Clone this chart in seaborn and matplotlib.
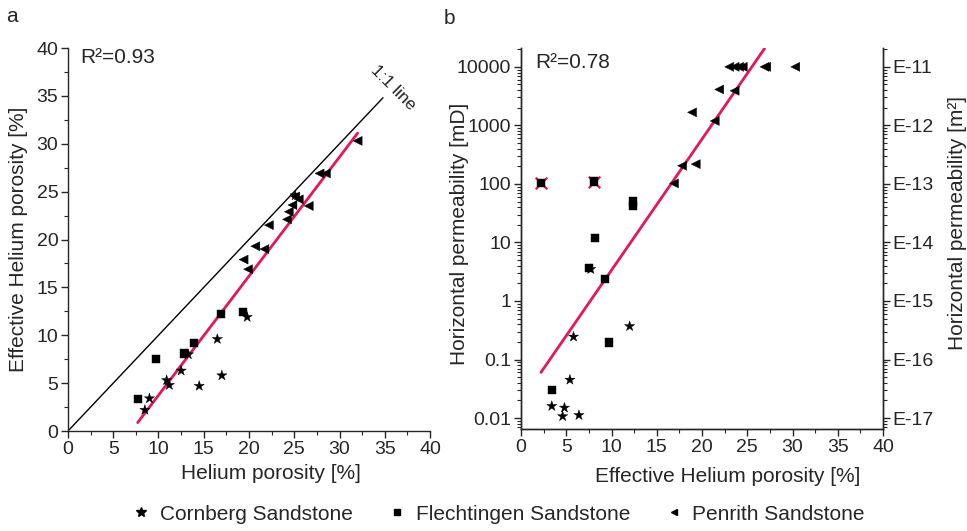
import numpy as np
import pandas as pd
import matplotlib
matplotlib.use("Agg")
import matplotlib.pyplot as plt
from matplotlib.lines import Line2D
from matplotlib.ticker import MultipleLocator, LogLocator, NullFormatter, FixedLocator, FixedFormatter
import seaborn as sns

# ---------------- data ----------------
# (a) helium porosity vs effective helium porosity [%]
a_cornberg_x = [9.0, 8.5, 10.9, 11.2, 12.5, 13.3, 14.5, 16.5, 17.0, 19.8, 25.1]
a_cornberg_y = [3.4, 2.2, 5.3, 4.8, 6.3, 8.0, 4.7, 9.6, 5.8, 11.9, 24.6]
a_flecht_x = [7.7, 9.7, 12.8, 13.9, 16.9, 19.3]
a_flecht_y = [3.3, 7.5, 8.1, 9.2, 12.2, 12.4]
a_penrith_x = [19.4, 19.9, 20.7, 21.7, 22.2, 24.2, 24.4, 24.8, 25.1, 25.5, 26.6, 27.8, 28.5, 32.0]
a_penrith_y = [17.9, 16.9, 19.3, 19.0, 21.5, 22.1, 22.9, 23.6, 24.5, 24.2, 23.5, 26.9, 26.9, 30.3]

# (b) effective helium porosity [%] vs horizontal permeability [mD]
b_cornberg_x = [7.7, 5.8, 12.0, 5.4, 3.4, 4.8, 4.6, 6.4]
b_cornberg_y = [3.5, 0.245, 0.37, 0.045, 0.016, 0.015, 0.0107, 0.0112]
b_flecht_x = [2.2, 8.1, 12.4, 12.4, 8.2, 9.3, 9.7, 3.4, 7.5]
b_flecht_y = [105, 110, 50, 42, 12, 2.4, 0.195, 0.030, 3.6]
b_penrith_x = [23.0, 23.6, 24.1, 24.5, 26.9, 27.1, 30.3, 21.9, 23.6, 18.9, 21.4, 17.8, 19.3, 16.9]
b_penrith_y = [1e4, 1e4, 1e4, 1e4, 1e4, 1e4, 1e4, 4110, 3900, 1670, 1190, 204, 218, 102]
# samples flagged as outliers (excluded from the fit)
b_outlier_x = [2.2, 8.1]
b_outlier_y = [105, 110]

# regression lines
fit_a_slope, fit_a_intercept, fit_a_range = 1.244, -8.7, (7.7, 32.0)
fit_b_slope, fit_b_intercept, fit_b_range = 0.224, -1.713, (2.2, 26.9)  # log10(k) = a*phi + b
r2_a, r2_b = 0.93, 0.78

rocks = ["Cornberg Sandstone", "Flechtingen Sandstone", "Penrith Sandstone"]
markers = {rocks[0]: "*", rocks[1]: "s", rocks[2]: "<"}
sizes = {rocks[0]: 60, rocks[1]: 34, rocks[2]: 42}
right_ticks = [1e-11, 1e-12, 1e-13, 1e-14, 1e-15, 1e-16, 1e-17]
right_labels = ["E-11", "E-12", "E-13", "E-14", "E-15", "E-16", "E-17"]


def frame(xs, ys):
    parts = []
    for rock, x, y in zip(rocks, xs, ys):
        parts.append(pd.DataFrame({"x": x, "y": y, "rock": rock}))
    return pd.concat(parts, ignore_index=True)


df_a = frame([a_cornberg_x, a_flecht_x, a_penrith_x], [a_cornberg_y, a_flecht_y, a_penrith_y])
df_b = frame([b_cornberg_x, b_flecht_x, b_penrith_x], [b_cornberg_y, b_flecht_y, b_penrith_y])

# ---------------- style ----------------
sns.set_style("ticks")
plt.rcParams["font.family"] = ["Liberation Sans", "DejaVu Sans"]
plt.rcParams["axes.linewidth"] = 1.0
fs = 14
fl = 15
red = "#e3175a"

fig = plt.figure(figsize=(9.67, 5.31), dpi=100)
ax_a = fig.add_axes([0.0703, 0.1883, 0.3744, 0.7213])
ax_b = fig.add_axes([0.5388, 0.1921, 0.3744, 0.7175])

# ---------------- panel a ----------------
sns.scatterplot(data=df_a, x="x", y="y", style="rock", markers=markers, size="rock",
                sizes=sizes, color="black", edgecolor="black", linewidth=0.3,
                legend=False, ax=ax_a, zorder=3)
ax_a.plot([0, 34.8], [0, 34.8], color="black", lw=1.0, zorder=2)
fx = np.array(fit_a_range)
ax_a.plot(fx, fit_a_slope * fx + fit_a_intercept, color=red, lw=2.0, zorder=2.5)
ax_a.text(35.9, 35.8, "1:1 line", rotation=-45, ha="center", va="center", fontsize=12.5)
ax_a.text(0.035, 0.975, f"R²={r2_a:.2f}", transform=ax_a.transAxes, ha="left", va="center", fontsize=fl)

ax_a.set_xlim(0, 40)
ax_a.set_ylim(0, 40)
ax_a.xaxis.set_major_locator(MultipleLocator(5))
ax_a.yaxis.set_major_locator(MultipleLocator(5))
ax_a.xaxis.set_minor_locator(MultipleLocator(2.5))
ax_a.yaxis.set_minor_locator(MultipleLocator(2.5))
sns.despine(ax=ax_a)
ax_a.set_xlabel("Helium porosity [%]", fontsize=fl)
ax_a.set_ylabel("Effective Helium porosity [%]", fontsize=fl)
ax_a.xaxis.set_label_coords(0.56, -0.085)
ax_a.yaxis.set_label_coords(-0.11, 0.5)

# ---------------- panel b ----------------
ax_b.set_yscale("log")
ax_b.scatter(b_outlier_x, b_outlier_y, marker="x", s=70, color=red, linewidths=1.6, zorder=2.8)
sns.scatterplot(data=df_b, x="x", y="y", style="rock", markers=markers, size="rock",
                sizes=sizes, color="black", edgecolor="black", linewidth=0.3,
                legend=False, ax=ax_b, zorder=3)
fx = np.linspace(*fit_b_range, 50)
ax_b.plot(fx, 10 ** (fit_b_slope * fx + fit_b_intercept), color=red, lw=2.0, zorder=2.5)
ax_b.text(0.04, 0.962, f"R²={r2_b:.2f}", transform=ax_b.transAxes, ha="left", va="center", fontsize=fl)

ylim_b = (0.0065, 21000)
ax_b.set_xlim(0, 40)
ax_b.set_ylim(*ylim_b)
ax_b.xaxis.set_major_locator(MultipleLocator(5))
ax_b.xaxis.set_minor_locator(MultipleLocator(2.5))
ax_b.yaxis.set_major_locator(FixedLocator([0.01, 0.1, 1, 10, 100, 1000, 10000]))
ax_b.yaxis.set_major_formatter(FixedFormatter(["0.01", "0.1", "1", "10", "100", "1000", "10000"]))
ax_b.yaxis.set_minor_locator(LogLocator(base=10, subs=np.arange(2, 10), numticks=20))
ax_b.yaxis.set_minor_formatter(NullFormatter())
ax_b.spines["top"].set_visible(False)
ax_b.set_xlabel("Effective Helium porosity [%]", fontsize=fl)
ax_b.set_ylabel("Horizontal permeability [mD]", fontsize=fl)
ax_b.xaxis.set_label_coords(0.57, -0.1)
ax_b.yaxis.set_label_coords(-0.145, 0.513)

ax_r = ax_b.twinx()
ax_r.set_yscale("log")
ax_r.set_ylim(ylim_b[0] * 1e-15, ylim_b[1] * 1e-15)
ax_r.yaxis.set_major_locator(FixedLocator(right_ticks))
ax_r.yaxis.set_major_formatter(FixedFormatter(right_labels))
ax_r.yaxis.set_minor_locator(LogLocator(base=10, subs=np.arange(2, 10), numticks=20))
ax_r.yaxis.set_minor_formatter(NullFormatter())
ax_r.spines["top"].set_visible(False)
ax_r.set_ylabel("Horizontal permeability [m²]", fontsize=fl)
ax_r.yaxis.set_label_coords(1.18, 0.54)

for ax in (ax_a, ax_b, ax_r):
    ax.tick_params(which="major", direction="out", length=5, width=1, labelsize=fs, pad=2)
    ax.tick_params(which="minor", direction="out", length=3, width=0.8)

fig.text(12 / 967, 1 - 16 / 531, "a", fontsize=fl, ha="center", va="center")
fig.text(449 / 967, 1 - 18 / 531, "b", fontsize=fl, ha="center", va="center")

# ---------------- legend ----------------
handles = [Line2D([], [], ls="none", marker=markers[r], color="black",
                  markersize=(7 if r == rocks[0] else 5)) for r in rocks]
fig.legend(handles, rocks, loc="center", bbox_to_anchor=(0.515, 1 - 514 / 531), ncol=3,
           frameon=False, fontsize=15, handletextpad=0.4, columnspacing=1.6, handlelength=1.0)

fig.savefig("out.png", dpi=100, facecolor="white")
